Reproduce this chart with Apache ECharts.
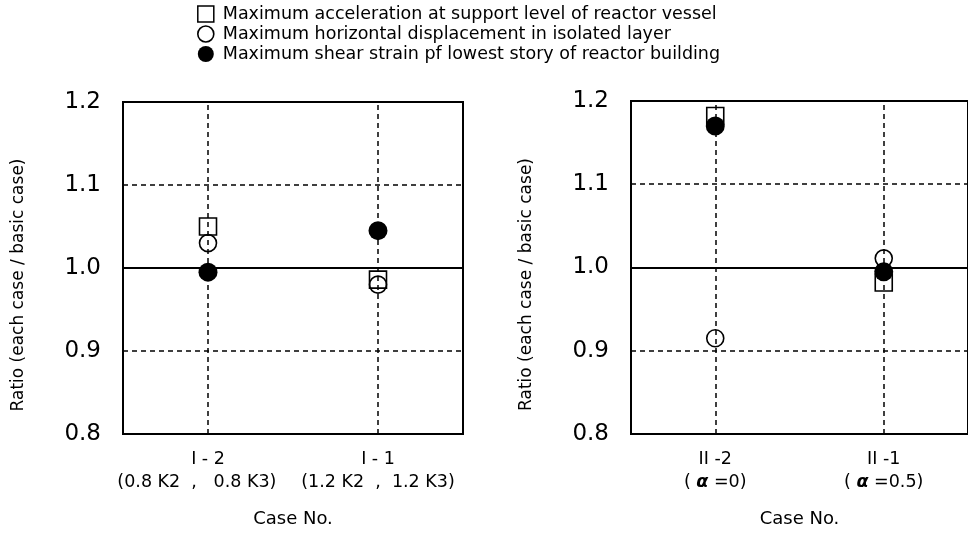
<!DOCTYPE html>
<html>
<head>
<meta charset="utf-8">
<script src="https://cdn.jsdelivr.net/npm/echarts@6/dist/echarts.min.js"></script>
<style>
html,body{margin:0;padding:0;background:#fff;}
#c{width:968px;height:533px;}
</style>
</head>
<body>
<div id="c"></div>
<script>
const seriesNames = [
  'Maximum acceleration at support level of reactor vessel',
  'Maximum horizontal displacement in isolated layer',
  'Maximum shear strain pf lowest story of reactor building'
];
const categoriesA = ['I - 2\n(0.8 K2  ,   0.8 K3)    ', 'I - 1\n(1.2 K2  ,  1.2 K3)'];
const categoriesB = ['II -2\n( α =0)', 'II -1\n( α =0.5)'];
const accelA = [1.05, 0.986];
const dispA = [1.03, 0.98];
const strainA = [0.995, 1.045];
const accelB = [1.182, 0.982];
const dispB = [0.915, 1.011];
const strainB = [1.17, 0.995];
const yMin = 0.8, yMax = 1.2, yStep = 0.1;
const baseLine = 1.0;
const xName = 'Case No.';
const yName = 'Ratio (each case / basic case)';

const FONT = 'DejaVu Sans, Liberation Sans, sans-serif';
const dash = { type: [5, 4], color: '#000', width: 1.5 };

function yAxis(gi) {
  return {
    type: 'value', gridIndex: gi, min: yMin, max: yMax, interval: yStep,
    name: yName, nameLocation: 'middle', nameGap: 96, nameRotate: 90,
    nameTextStyle: { fontFamily: FONT, fontSize: 17, color: '#000', padding: [0, 34, 0, 0] },
    axisLine: { show: false }, axisTick: { show: false },
    axisLabel: { fontFamily: FONT, fontSize: 23, color: '#000', margin: 22, formatter: v => v.toFixed(1) },
    splitLine: { show: true, lineStyle: dash }
  };
}
function xAxis(gi, cats) {
  return {
    type: 'category', gridIndex: gi, data: cats, boundaryGap: true,
    name: xName, nameLocation: 'middle', nameGap: 76,
    nameTextStyle: { fontFamily: FONT, fontSize: 18, color: '#000' },
    axisLine: { show: false }, axisTick: { show: false },
    axisLabel: {
      fontFamily: FONT, fontSize: 17.5, color: '#000', margin: 14, lineHeight: 23, interval: 0,
      formatter: v => v.replace('α', '{a|α}'),
      rich: { a: { fontFamily: FONT, fontSize: 17.5, lineHeight: 23, fontStyle: 'italic', fontWeight: 'bold', color: '#000' } }
    },
    splitLine: { show: false }
  };
}
function makeSeries(gi, acc, disp, strain) {
  return [
    {
      name: seriesNames[0], type: 'scatter', xAxisIndex: gi, yAxisIndex: gi,
      symbol: 'rect', symbolSize: 17, data: acc,
      itemStyle: { color: 'rgba(0,0,0,0)', borderColor: '#000', borderWidth: 1.6, opacity: 1 },
      markLine: {
        silent: true, symbol: 'none', label: { show: false },
        lineStyle: dash,
        data: [{ xAxis: 0 }, { xAxis: 1 }]
      },
      z: 3
    },
    {
      name: seriesNames[1], type: 'scatter', xAxisIndex: gi, yAxisIndex: gi,
      symbol: 'circle', symbolSize: 17, data: disp,
      itemStyle: { color: 'rgba(0,0,0,0)', borderColor: '#000', borderWidth: 1.6, opacity: 1 },
      markLine: {
        silent: true, symbol: 'none', label: { show: false },
        lineStyle: { type: 'solid', color: '#000', width: 2 },
        data: [{ yAxis: baseLine }]
      },
      z: 4
    },
    {
      name: seriesNames[2], type: 'scatter', xAxisIndex: gi, yAxisIndex: gi,
      symbol: 'circle', symbolSize: 19, data: strain,
      itemStyle: { color: '#000', borderColor: '#000', borderWidth: 0, opacity: 1 },
      z: 5
    }
  ];
}

const chart = echarts.init(document.getElementById('c'), null, { renderer: 'canvas' });
chart.setOption({
  animation: false,
  backgroundColor: '#fff',
  textStyle: { fontFamily: FONT },
  legend: {
    orient: 'vertical', left: 192, top: 0, itemGap: 2,
    itemWidth: 16, itemHeight: 16,
    textStyle: { fontFamily: FONT, fontSize: 17.5, color: '#000', padding: [0, 0, 0, 4] },
    data: [
      { name: seriesNames[0], icon: 'rect', itemStyle: { color: '#fff', borderColor: '#000', borderWidth: 1.5 } },
      { name: seriesNames[1], icon: 'circle', itemStyle: { color: '#fff', borderColor: '#000', borderWidth: 1.6 } },
      { name: seriesNames[2], icon: 'circle', itemStyle: { color: '#000', borderColor: '#000', borderWidth: 0 } }
    ],
    selectedMode: false
  },
  grid: [
    { left: 123, top: 102, width: 340, height: 336, show: true, borderColor: '#000', borderWidth: 2, backgroundColor: 'transparent' },
    { left: 631, top: 101, width: 340, height: 337, show: true, borderColor: '#000', borderWidth: 2, backgroundColor: 'transparent' }
  ],
  xAxis: [xAxis(0, categoriesA), xAxis(1, categoriesB)],
  yAxis: [yAxis(0), yAxis(1)],
  series: [...makeSeries(0, accelA, dispA, strainA), ...makeSeries(1, accelB, dispB, strainB)]
});
</script>
</body>
</html>
